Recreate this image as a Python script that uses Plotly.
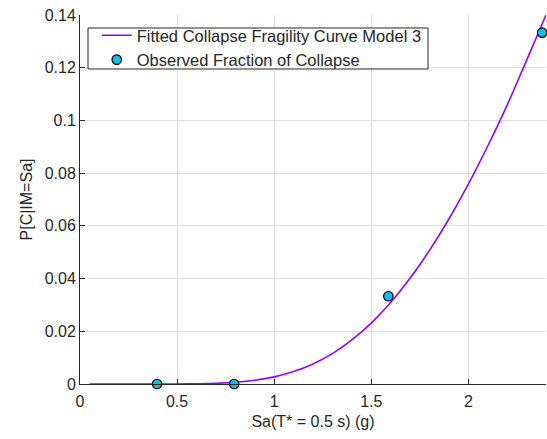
import plotly.graph_objects as go

# Fitted curve values
curve_x = [0.05, 0.2, 0.4, 0.5, 0.6, 0.7, 0.8, 0.9, 1.0, 1.1, 1.2, 1.3, 1.4, 1.5, 1.6, 1.7, 1.8, 1.9, 2.0, 2.1, 2.2, 2.3, 2.4]
curve_y = [0.0, 0.0, 0.0, 0.000005, 0.00008, 0.00025, 0.00065, 0.0014, 0.0027, 0.0047, 0.0076, 0.0115, 0.0167, 0.0231, 0.0309, 0.0401, 0.0507, 0.0626, 0.0758, 0.0903, 0.1058, 0.1228, 0.140]

obs_x = [0.397, 0.794, 1.588, 2.38]
obs_y = [0.0, 0.0, 0.0333, 0.1333]

xtick_vals = [0, 0.5, 1, 1.5, 2]
xtick_text = ["0", "0.5", "1", "1.5", "2"]
ytick_vals = [0, 0.02, 0.04, 0.06, 0.08, 0.1, 0.12, 0.14]
ytick_text = ["0", "0.02", "0.04", "0.06", "0.08", "0.1", "0.12", "0.14"]

FONT = "Liberation Sans, Arial"
TXT = "#262626"

fig = go.Figure()
fig.add_trace(go.Scatter(
    x=curve_x, y=curve_y, mode="lines", line=dict(color="#9400FF", width=1.6, shape="spline"),
    name="Fitted Collapse Fragility Curve Model 3"))
fig.add_trace(go.Scatter(
    x=obs_x, y=obs_y, mode="markers",
    marker=dict(color="#12BDEE", size=9.5, line=dict(color="black", width=1.2)),
    name="Observed Fraction of Collapse", cliponaxis=False))

axis_common = dict(
    showgrid=True, gridcolor="#dedede", gridwidth=1,
    showline=True, linecolor=TXT, linewidth=1,
    ticks="inside", ticklen=5, tickcolor=TXT,
    tickfont=dict(family=FONT, size=16, color=TXT),
    zeroline=False, mirror=False,
)
fig.update_xaxes(range=[0, 2.4], tickvals=xtick_vals, ticktext=xtick_text,
                 ticklabelstandoff=3,
                 title=dict(text="Sa(T* = 0.5 s) (g)", font=dict(family=FONT, size=16, color=TXT), standoff=6),
                 **axis_common)
fig.update_yaxes(range=[0, 0.14], tickvals=ytick_vals, ticktext=ytick_text,
                 title=dict(text="P[C|IM=Sa]", font=dict(family=FONT, size=16, color=TXT), standoff=8),
                 **axis_common)

# compact legend frame (MATLAB style)
fig.add_shape(type="rect", xref="paper", yref="paper",
              x0=0.0172, x1=0.7468, y0=0.8537, y1=0.9648,
              fillcolor="white", line=dict(color=TXT, width=1), layer="above")

fig.update_layout(
    width=547, height=439,
    margin=dict(l=80, r=1, t=15, b=55),
    plot_bgcolor="white", paper_bgcolor="white",
    font=dict(family=FONT, size=16, color=TXT),
    legend=dict(x=0.036, y=0.992, xanchor="left", yanchor="top",
                bgcolor="rgba(0,0,0,0)", borderwidth=0,
                font=dict(family=FONT, size=16.5, color=TXT),
                tracegroupgap=0, itemwidth=30),
    showlegend=True,
)

fig.write_html("out.html")
